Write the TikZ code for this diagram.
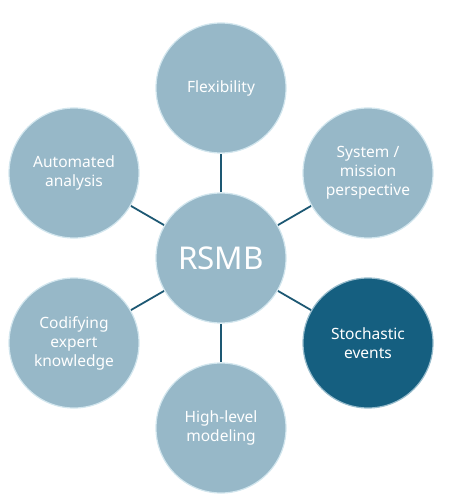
\documentclass[tikz,border=0pt]{standalone}
\usepackage{fontspec}
\setmainfont{Noto Sans}
\usetikzlibrary{backgrounds}
\definecolor{bubble}{HTML}{97B8C8}
\definecolor{bubbledark}{HTML}{155F80}
\definecolor{rim}{HTML}{D2E6EE}
\definecolor{link}{HTML}{1D5873}
\begin{document}
\begin{tikzpicture}[x=1bp,y=-1bp,
  bub/.style={circle, minimum size=130bp, inner sep=0pt, fill=bubble, draw=rim, line width=1.2bp,
    text=white, align=center, font=\fontsize{15.6}{19}\selectfont},
  hub/.style={bub, font=\fontsize{31.5}{34}\selectfont},
  dark/.style={fill=bubbledark, draw=rim!70!bubbledark},
  conn/.style={draw=link, line width=1.8bp}]
\useasboundingbox (0,0) rectangle (470,503);
\node[hub] (c) at (221,258) {RSMB};
\node[bub] (flex) at (221,88) {Flexibility};
\node[bub] (sys) at (368,173) {System /\\mission\\perspective};
\node[bub, dark] (sto) at (368,343) {Stochastic\\events};
\node[bub] (hl) at (221,428) {High-level\\modeling};
\node[bub] (cod) at (74,343) {Codifying\\expert\\knowledge};
\node[bub] (auto) at (74,173) {Automated\\analysis};
\begin{scope}[on background layer]
\foreach \n in {flex,sys,sto,hl,cod,auto}{\draw[conn] (c) -- (\n);}
\end{scope}
\end{tikzpicture}
\end{document}
